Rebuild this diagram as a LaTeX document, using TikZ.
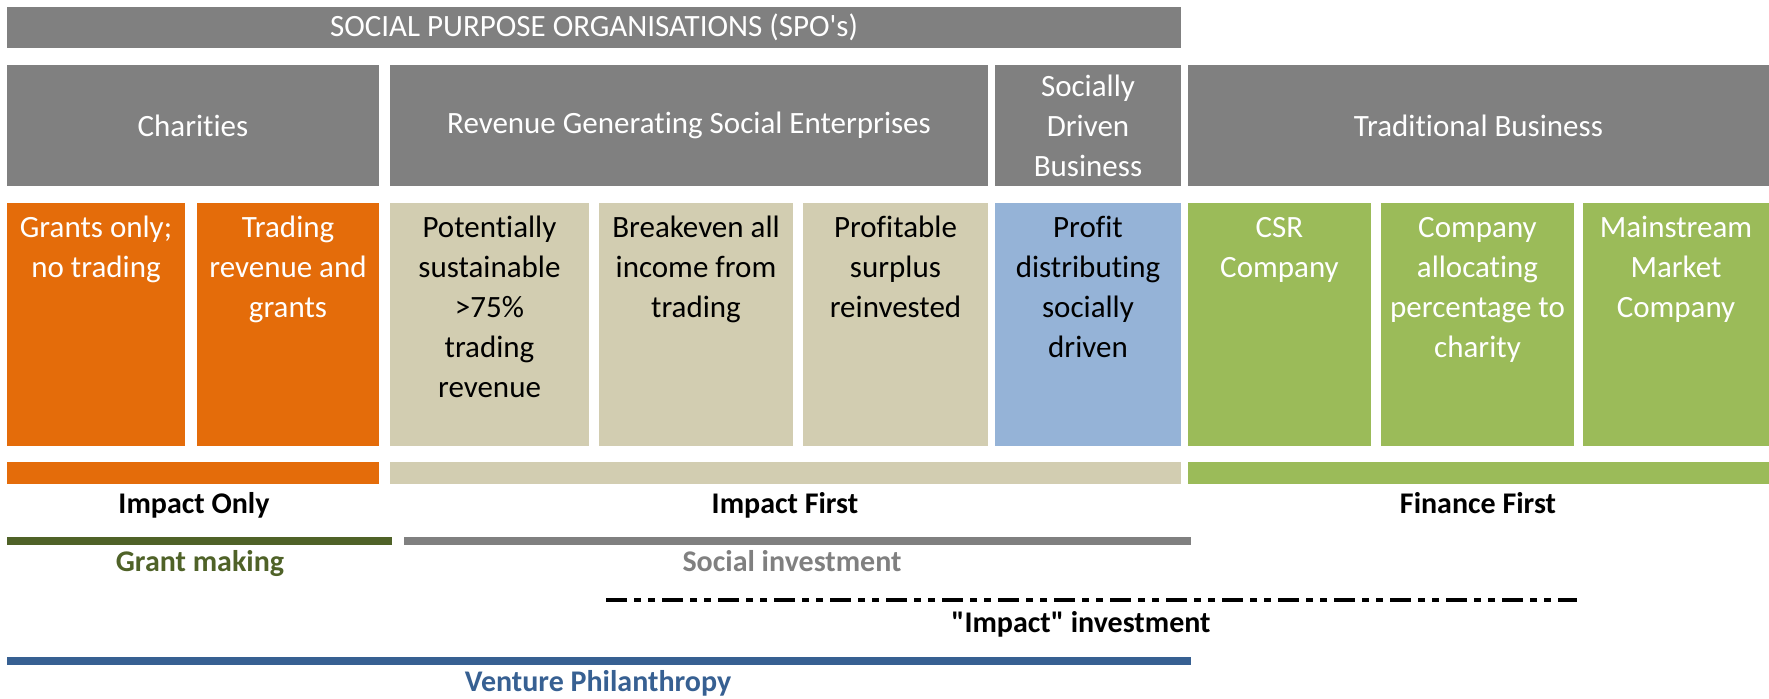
\documentclass[tikz,border=0pt]{standalone}
\usepackage{fontspec}
\setmainfont{Carlito}
% plain family: straight quotes, no ti/tt ligatures
\newfontfamily\spofont{Carlito}[Ligatures=CommonOff]
\definecolor{spogrey}{HTML}{808080}
\definecolor{spoorange}{HTML}{E46C0A}
\definecolor{spobeige}{HTML}{D2CDB1}
\definecolor{spoblue}{HTML}{95B3D7}
\definecolor{spogreen}{HTML}{9BBB59}
\definecolor{spodkgreen}{HTML}{4F6228}
\definecolor{sponavy}{HTML}{376092}
% filled cell: name, x1, y1, x2, y2, fill colour (pixel grid, y down)
\newcommand\spocell[6]{%
  \node[fill=#6, draw=none, inner sep=0pt, outer sep=0pt, anchor=north west,
        minimum width={(#4-#2)*0.5pt}, minimum height={(#5-#3)*0.5pt}] (#1) at (#2,#3) {};}
\begin{document}
\begin{tikzpicture}[x=0.5pt,y=-0.5pt,
  boxtext/.style={font=\spofont\fontsize{15.5}{20}\selectfont, align=center, inner sep=0pt},
  toptext/.style={boxtext, anchor=north, yshift=-3pt},
  lbl/.style={font=\spofont\fontsize{15}{18}\selectfont\bfseries, inner sep=0pt, anchor=base},
  bar/.style={line width=4pt},
  impactdash/.style={line width=2.35pt, dash pattern=on 10.5pt off 3.5pt on 3.5pt off 3.5pt on 3.5pt off 3.5pt}]
\useasboundingbox (0,0) rectangle (1769,699);

% header
\spocell{spo}{7}{7}{1181}{48}{spogrey}
\node[boxtext, text=white] (spo-t) at (spo) {SOCIAL PURPOSE ORGANISATIONS (SPO's)};

% organisation types
\spocell{char}{7}{65}{379}{186}{spogrey}
\spocell{rgse}{390}{65}{988}{186}{spogrey}
\spocell{sdb}{995}{65}{1181}{186}{spogrey}
\spocell{trad}{1188}{65}{1769}{186}{spogrey}
\node[boxtext, text=white] (char-t) at (char) {Charities};
\node[boxtext, text=white] (rgse-t) at (rgse) {Revenue Generating Social Enterprises};
\node[boxtext, text=white] (sdb-t) at (sdb) {Socially\\Driven\\Business};
\node[boxtext, text=white] (trad-t) at (trad) {Traditional Business};

% sub-types
\spocell{grants}{7}{203}{185}{446}{spoorange}
\spocell{trading}{197}{203}{379}{446}{spoorange}
\spocell{pot}{390}{203}{589}{446}{spobeige}
\spocell{brk}{599}{203}{793}{446}{spobeige}
\spocell{prof}{803}{203}{988}{446}{spobeige}
\spocell{pdist}{995}{203}{1181}{446}{spoblue}
\spocell{csr}{1188}{203}{1371}{446}{spogreen}
\spocell{alloc}{1381}{203}{1574}{446}{spogreen}
\spocell{main}{1583}{203}{1769}{446}{spogreen}
\node[toptext, text=white] (grants-t) at (grants.north) {\strut Grants only;\\no trading};
\node[toptext, text=white] (trading-t) at (trading.north) {\strut Trading\\revenue and\\grants};
\node[toptext] (pot-t) at (pot.north) {\strut Potentially\\sustainable\\>75\%\\trading\\revenue};
\node[toptext] (brk-t) at (brk.north) {\strut Breakeven all\\income from\\trading};
\node[toptext] (prof-t) at (prof.north) {\strut Profitable\\surplus\\reinvested};
\node[toptext] (pdist-t) at (pdist.north) {\strut Profit\\distributing\\socially\\driven};
\node[toptext, text=white] (csr-t) at (csr.north) {\strut CSR\\Company};
\node[toptext, text=white] (alloc-t) at (alloc.north) {\strut Company\\allocating\\percentage to\\charity};
\node[toptext, text=white] (main-t) at (main.north) {\strut Mainstream\\Market\\Company};

% investor orientation bands
\spocell{only}{7}{462}{379}{484}{spoorange}
\spocell{first}{390}{462}{1181}{484}{spobeige}
\spocell{fin}{1188}{462}{1769}{484}{spogreen}
\node[lbl] (only-t) at (194,514) {Impact Only};
\node[lbl] (first-t) at (785,514) {Impact First};
\node[lbl] (fin-t) at (1478,514) {Finance First};

% funding approaches
\coordinate (gm-a) at (7,541);
\coordinate (gm-b) at (392,541);
\coordinate (si-a) at (404,541);
\coordinate (si-b) at (1191,541);
\coordinate (ii-a) at (606,600);
\coordinate (ii-b) at (1577,600);
\coordinate (vp-a) at (7,661);
\coordinate (vp-b) at (1191,661);
\draw[bar, spodkgreen] (gm-a) -- (gm-b);
\draw[bar, spogrey] (si-a) -- (si-b);
\draw[impactdash] (ii-a) -- (ii-b);
\draw[bar, sponavy] (vp-a) -- (vp-b);
\node[lbl, text=spodkgreen] (gm-t) at (200,572) {Grant making};
\node[lbl, text=spogrey] (si-t) at (792,572) {Social investment};
\node[lbl] (ii-t) at (1081,633) {"Impact" investment};
\node[lbl, text=sponavy] (vp-t) at (598,692) {Venture Philanthropy};
\end{tikzpicture}
\end{document}
